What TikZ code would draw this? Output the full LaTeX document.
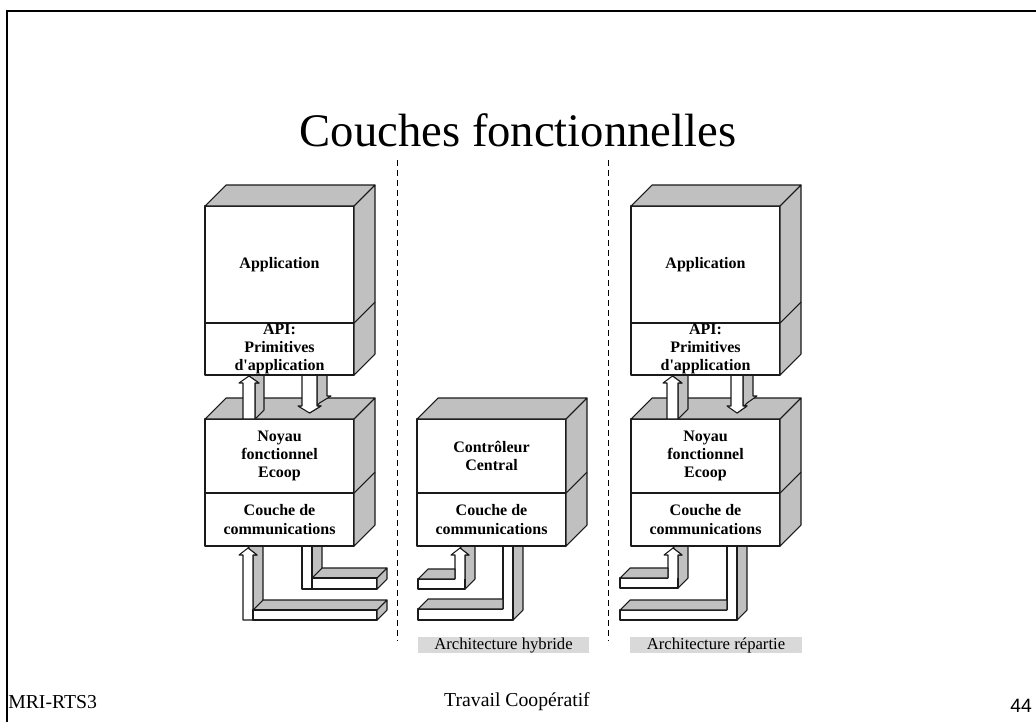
\documentclass[tikz,border=0pt]{standalone}
\usepackage{fontspec}
\setmainfont{Liberation Serif}[Ligatures=TeXOff]
\newfontfamily\arialf{Liberation Sans}
\usetikzlibrary{calc}
\definecolor{shadecol}{HTML}{C0C0C0}
\definecolor{lblcol}{HTML}{D9D9D9}
\definecolor{linecol}{HTML}{1A1A1A}
\tikzset{
  ln/.style={draw=linecol, line width=0.8pt, line join=round},
  gface/.style={ln, fill=shadecol},
  wface/.style={ln, fill=white},
  face/.style={ln, fill=white, inner sep=0pt, outer sep=0pt, anchor=north west, minimum width=149*0.75pt},
  btxt/.style={font=\bfseries\fontsize{12}{13.8}\selectfont, align=center, inner sep=0pt},
  lbl/.style={fill=lblcol, inner xsep=0pt, inner ysep=0.8pt, text height=8.2pt, text depth=2.2pt, font=\fontsize{12.5}{14}\selectfont},
  sep/.style={draw=black, line width=0.6pt, dash pattern=on 4.5pt off 3pt},
}
% 3D up arrow: x0, ybottom, ytip, width, depth
\newcommand{\ArrUp}[5]{%
  \draw[gface] (#1+#4,#2) -- ++(#5,-#5) -- (#1+#4+#5,#3+7-#5) -- (#1+#4+4+#5,#3+7-#5) -- (#1+#4/2+#5,#3-#5) -- (#1+#4/2,#3) -- (#1+#4+4,#3+7) -- (#1+#4,#3+7) -- cycle;
  \draw[wface] (#1,#2) -- (#1,#3+7) -- (#1-4,#3+7) -- (#1+#4/2,#3) -- (#1+#4+4,#3+7) -- (#1+#4,#3+7) -- (#1+#4,#2) -- cycle;}
% 3D down arrow: x0, ytop, ytip, width, depth
\newcommand{\ArrDown}[5]{%
  \draw[gface] (#1+#4,#2) -- ++(#5,-#5) -- (#1+#4+#5,#3-7-#5) -- (#1+#4+4+#5,#3-7-#5) -- (#1+#4/2+#5,#3-#5) -- (#1+#4/2,#3) -- (#1+#4+4,#3-7) -- (#1+#4,#3-7) -- cycle;
  \draw[wface] (#1,#2) -- (#1,#3-7) -- (#1-4,#3-7) -- (#1+#4/2,#3) -- (#1+#4+4,#3-7) -- (#1+#4,#3-7) -- (#1+#4,#2) -- cycle;}
% two-layer 3D box: name, x, ytop, h1, h2, text1, text2
\newcommand{\TwoBox}[7]{%
  \node[face, minimum height=#4*0.75pt] (#1a) at (#2,#3) {};
  \node[face, minimum height=#5*0.75pt] (#1b) at (#2,#3+#4) {};
  \draw[gface] (#1a.north west) -- ++(21,-21) -- ++(149,0) -- (#1a.north east) -- cycle;
  \draw[gface] (#1a.north east) -- ++(21,-21) -- ($(#1b.south east)+(21,-21)$) -- (#1b.south east) -- cycle;
  \draw[ln] (#1a.south east) -- ++(21,-21);
  \node[btxt] (#1at) at (#1a.center) {#6};
  \node[btxt] (#1bt) at (#1b.center) {#7};}
\begin{document}
\begin{tikzpicture}[x=0.75pt,y=-0.75pt]
\useasboundingbox (0,0) rectangle (1036,722);
% frame
\draw[line width=1.6pt] (7,722) -- (7,11) -- (1036,11);
% title
\node[font=\fontsize{35}{40}\selectfont, inner sep=0pt] (title) at (518,130) {Couches fonctionnelles};
% separators
\draw[sep] (397,160) -- (397,641);
\draw[sep] (608,160) -- (608,641);

% ---- pipes, left stack
\ArrUp{243}{620}{548}{10}{10}
\draw[gface] (253,610) -- (263,600) -- (387,600) -- (377,610) -- cycle;
\draw[wface] (253,610) rectangle (377,620);
\draw[gface] (377,610) -- (387,600) -- (387,610) -- (377,620) -- cycle;
\draw[gface] (312,540) -- (322,540) -- (322,568) -- (387,568) -- (377,578) -- (312,578) -- cycle;
\draw[ln] (312,578) -- (322,568);
\draw[wface] (302,546) rectangle (312,589);
\draw[wface] (312,578) rectangle (377,589);
\draw[gface] (377,578) -- (387,568) -- (387,579) -- (377,589) -- cycle;

% ---- pipes, middle stack
\ArrUp{455}{589}{548}{10}{10}
\fill[white] (418,579) rectangle (465,589);
\draw[ln] (455,579) -- (418,579) -- (418,589) -- (465,589) -- (465,579);
\draw[gface] (418,579) -- (428,569) -- (455,569) -- (455,579) -- cycle;
\draw[gface] (513,540) -- (523,540) -- (523,610) -- (513,620) -- cycle;
\draw[wface] (503,546) rectangle (513,620);
\fill[white] (418,609) rectangle (513,620);
\draw[ln] (503,609) -- (418,609) -- (418,620) -- (513,620) -- (513,609);
\draw[gface] (418,609) -- (428,599) -- (503,599) -- (503,609) -- cycle;

% ---- pipes, right stack
\ArrUp{668}{588}{548}{10}{10}
\fill[white] (620,578) rectangle (678,588);
\draw[ln] (668,578) -- (620,578) -- (620,588) -- (678,588) -- (678,578);
\draw[gface] (620,578) -- (630,568) -- (668,568) -- (668,578) -- cycle;
\draw[gface] (737,540) -- (747,540) -- (747,610) -- (737,620) -- cycle;
\draw[wface] (727,546) rectangle (737,620);
\fill[white] (620,610) rectangle (737,620);
\draw[ln] (727,610) -- (620,610) -- (620,620) -- (737,620) -- (737,610);
\draw[gface] (620,610) -- (630,600) -- (727,600) -- (727,610) -- cycle;

% ---- lower boxes
\TwoBox{L2}{205}{419}{74}{53}{Noyau\\fonctionnel\\Ecoop}{Couche de\\communications}
\TwoBox{M2}{417}{419}{74}{53}{Contrôleur\\Central}{Couche de\\communications}
\TwoBox{R2}{631}{419}{74}{53}{Noyau\\fonctionnel\\Ecoop}{Couche de\\communications}

% ---- arrows between layers
\ArrUp{243}{419}{376}{12}{9}
\ArrDown{302}{375}{413}{15}{10}
\ArrUp{667}{419}{376}{11}{10}
\ArrDown{731}{375}{413}{12}{10}

% ---- upper boxes
\TwoBox{L1}{205}{206}{117}{52}{Application}{API:\\Primitives\\d'application}
\TwoBox{R1}{631}{206}{117}{52}{Application}{API:\\Primitives\\d'application}

% ---- captions
\node[lbl, minimum width=171*0.75pt] (hyb) at (503.5,645) {Architecture hybride};
\node[lbl, minimum width=172*0.75pt] (rep) at (716,645) {Architecture répartie};

% ---- footer
\node[anchor=base west, inner sep=0pt, font=\fontsize{14.8}{16}\selectfont] (mri) at (8,708.5) {MRI-RTS3};
\node[anchor=base, inner sep=0pt, font=\fontsize{14.8}{16}\selectfont] (trav) at (517,706) {Travail Coopératif};
\node[inner sep=0pt, font=\arialf\fontsize{14.5}{16}\selectfont] (pg) at (1021,706) {44};
\end{tikzpicture}
\end{document}
